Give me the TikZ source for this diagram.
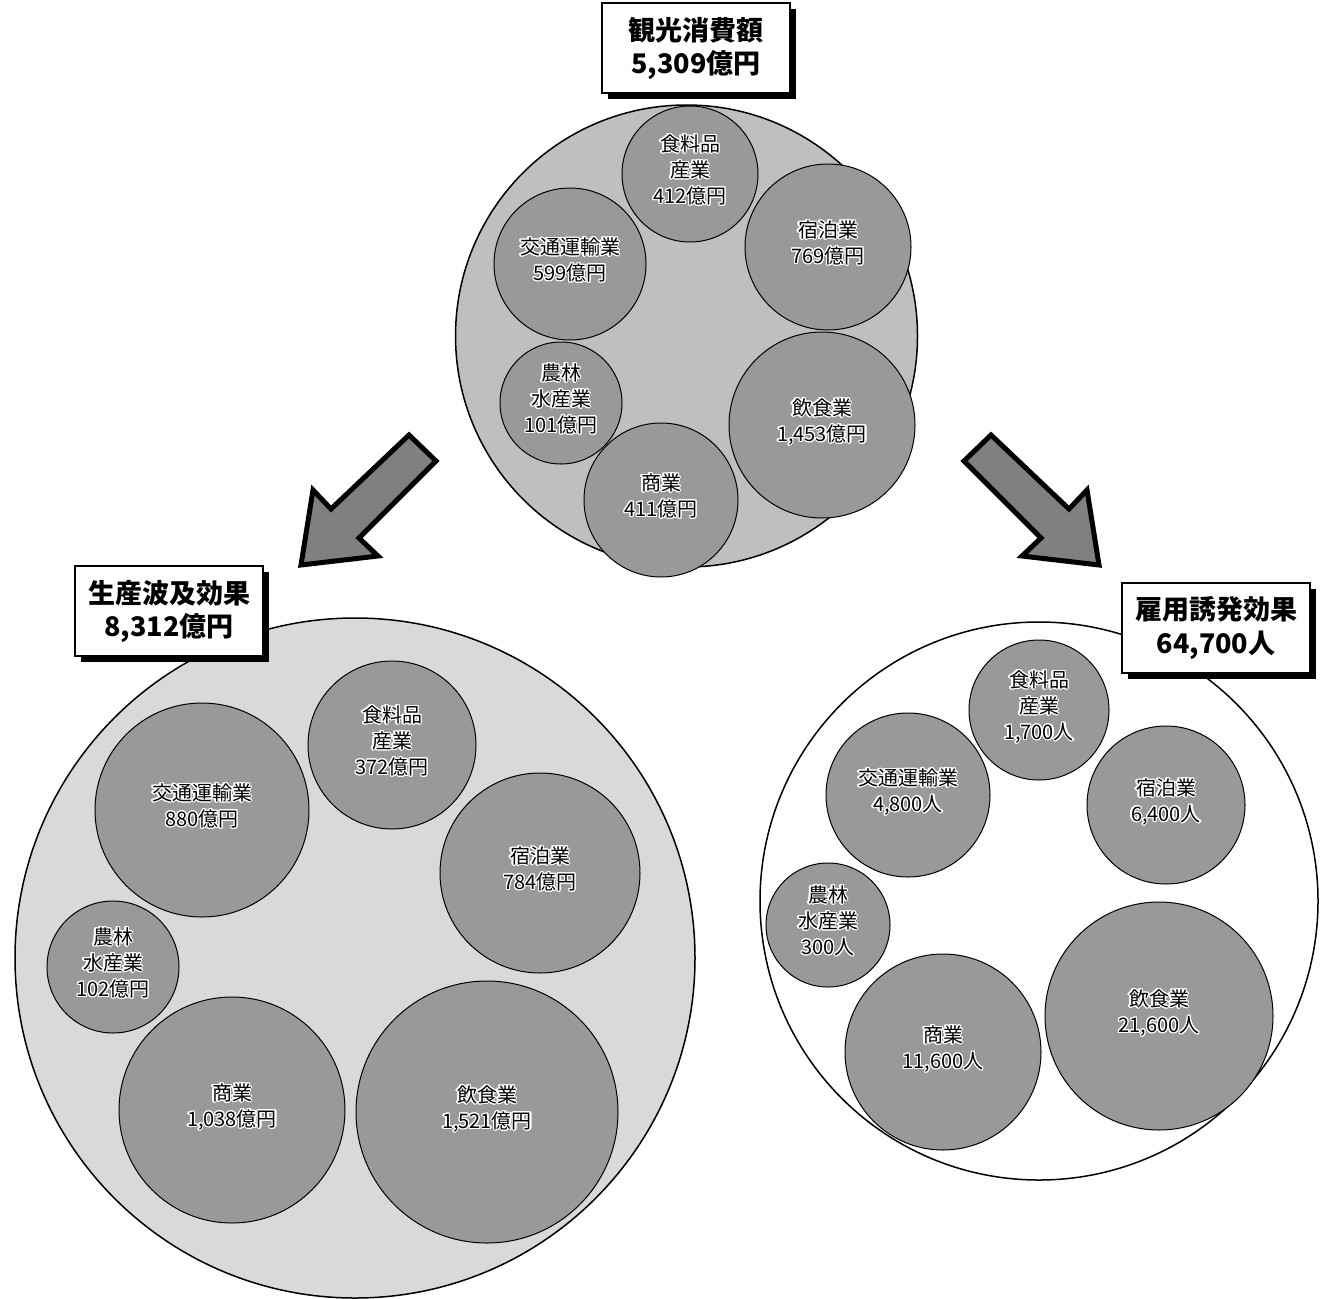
\documentclass[tikz,border=0pt]{standalone}
\usepackage{fontspec}
\setmainfont{Noto Sans CJK JP}
\usepackage[copies]{contour}
\contourlength{1.2pt}
\contournumber{16}
\usetikzlibrary{shadows}
\definecolor{sectgray}{gray}{0.6}
\definecolor{spendgray}{gray}{0.75}
\definecolor{prodgray}{gray}{0.85}
\definecolor{arrowgray}{gray}{0.5}
\tikzset{
  sector/.style={circle, draw, line width=1pt, fill=sectgray, inner sep=0pt,
    align=center, font=\fontsize{20}{26}\selectfont},
  total/.style={circle, draw, line width=1.5pt, inner sep=0pt},
  titlebox/.style={draw, line width=2pt, fill=white, align=center,
    minimum width=188pt, minimum height=90pt, inner sep=0pt,
    font=\bfseries\fontsize{27}{33}\selectfont,
    drop shadow={shadow xshift=6pt, shadow yshift=-6pt, fill=black, opacity=1}},
  bigarrow/.style={draw, line width=5pt, fill=arrowgray, line join=miter},
}
\newcommand\hl[1]{\contour{white}{#1}}

\begin{document}
\begin{tikzpicture}[x=1pt, y=-1pt]

  \newcommand\sect[5]{\node[sector, minimum size={2*#4pt}] (#1) at (#2,#3) {#5\\[-16pt]\mbox{}};}

  %% <spacing>
  \useasboundingbox (0,0) rectangle (1324,1298);
  % </spacing>

  %% totals
  \node[total, fill=spendgray, minimum size=462pt] (spend) at (686.5,336) {};
  \node[total, fill=prodgray,  minimum size=680pt] (prod)  at (355,958) {};
  \node[total, fill=white,     minimum size=558pt] (jobs)  at (1039,901) {};

  %% tourism spending
  \sect{s-food}{690}{174}{68}{\hl{食料品}\\\hl{産業}\\\hl{412億円}}
  \sect{s-hotel}{828}{247}{83}{\hl{宿泊業}\\\hl{769億円}}
  \sect{s-trans}{570}{264}{76}{\hl{交通運輸業}\\\hl{599億円}}
  \sect{s-agri}{561}{403}{61}{\hl{農林}\\\hl{水産業}\\\hl{101億円}}
  \sect{s-rest}{822}{425}{93}{\hl{飲食業}\\\hl{1,453億円}}
  \sect{s-trade}{661}{500}{77}{\hl{商業}\\\hl{411億円}}

  %% production
  \sect{p-food}{392}{745}{84}{\hl{食料品}\\\hl{産業}\\\hl{372億円}}
  \sect{p-trans}{202}{810}{107}{\hl{交通運輸業}\\\hl{880億円}}
  \sect{p-hotel}{540}{873}{100}{\hl{宿泊業}\\\hl{784億円}}
  \sect{p-agri}{113}{967}{66}{\hl{農林}\\\hl{水産業}\\\hl{102億円}}
  \sect{p-trade}{232}{1110}{113}{\hl{商業}\\\hl{1,038億円}}
  \sect{p-rest}{487}{1112}{131}{\hl{飲食業}\\\hl{1,521億円}}

  %% employment
  \sect{j-food}{1039}{710}{70}{\hl{食料品}\\\hl{産業}\\\hl{1,700人}}
  \sect{j-trans}{908}{795}{82}{\hl{交通運輸業}\\\hl{4,800人}}
  \sect{j-hotel}{1166}{805}{79}{\hl{宿泊業}\\\hl{6,400人}}
  \sect{j-agri}{828}{925}{62}{\hl{農林}\\\hl{水産業}\\\hl{300人}}
  \sect{j-rest}{1159}{1016}{114}{\hl{飲食業}\\\hl{21,600人}}
  \sect{j-trade}{943}{1052}{98}{\hl{商業}\\\hl{11,600人}}

  %% titles
  \node[titlebox] (spend-t) at (696,48)  {観光消費額\\5,309億円};
  \node[titlebox] (prod-t)  at (169,611) {生産波及効果\\8,312億円};
  \node[titlebox] (jobs-t)  at (1216,628) {雇用誘発効果\\64,700人};

  %% arrows
  \draw[bigarrow] (409,435) -- (436,461) -- (359,538) -- (378,556)
    -- (301,565) -- (313,490) -- (331,509) -- cycle; % spend->prod
  \draw[bigarrow] (991,435) -- (964,461) -- (1041,538) -- (1022,556)
    -- (1099,565) -- (1087,490) -- (1069,509) -- cycle; % spend->jobs

\end{tikzpicture}
\end{document}
